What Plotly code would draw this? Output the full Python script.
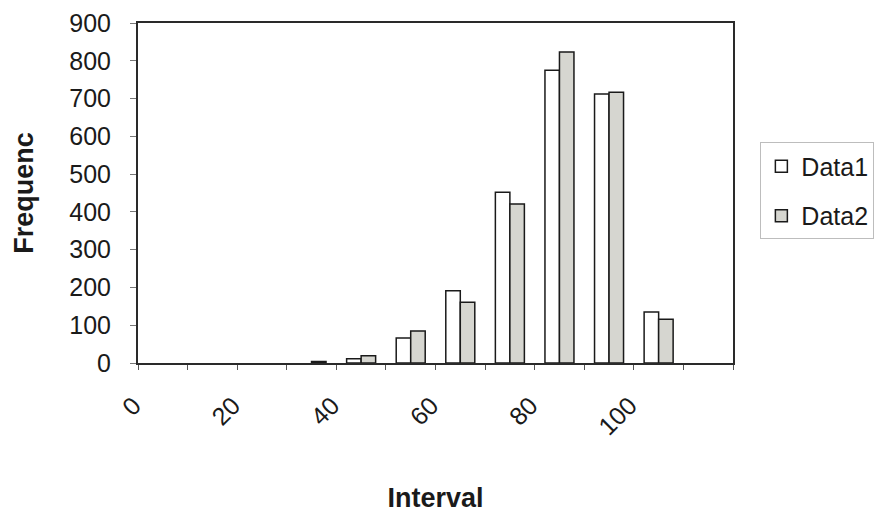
import plotly.graph_objects as go

# Histogram bins (interval start) and the frequencies of the two data sets
categories = ["0", "10", "20", "30", "40", "50", "60", "70", "80", "90", "100", "110"]
tick_labels = ["0", "", "20", "", "40", "", "60", "", "80", "", "100", ""]
data1 = [0, 0, 0, 0, 11, 66, 191, 452, 775, 712, 135, 0]
data2 = [0, 0, 0, 4, 19, 85, 161, 421, 823, 717, 116, 0]

FONT = "Liberation Sans, Arial, sans-serif"
INK = "#1a1a1a"


def heights(values):
    # empty bins are left blank instead of drawing a flat outline on the axis
    return [v if v > 0 else None for v in values]


fig = go.Figure()
fig.add_trace(go.Bar(
    x=categories, y=heights(data1), name="Data1", legendgroup="d1",
    marker=dict(color="white", line=dict(color=INK, width=1.5)),
))
fig.add_trace(go.Bar(
    x=categories, y=heights(data2), name="Data2", legendgroup="d2",
    marker=dict(color="#d6d6d0", line=dict(color=INK, width=1.5)),
))

fig.update_layout(
    width=886, height=513,
    margin=dict(l=138, r=153, t=23, b=150),
    paper_bgcolor="white", plot_bgcolor="white",
    barmode="group", bargap=0.415, bargroupgap=0,
    font=dict(family=FONT, size=25, color=INK),
    showlegend=True,
    legend=dict(
        x=1.046, xanchor="left", y=0.506, yanchor="middle",
        bordercolor="#bdbdbd", borderwidth=1, bgcolor="white",
        font=dict(family=FONT, size=25, color=INK),
        tracegroupgap=14,
    ),
    xaxis=dict(
        type="category", automargin=False,
        tickvals=categories, ticktext=tick_labels,
        tickson="boundaries", ticks="outside", ticklen=5, tickcolor="#555",
        tickangle=-45, ticklabelshift=-29, ticklabelstandoff=16,
        showline=True, mirror=True, linecolor="#2a2a2a", linewidth=2,
        showgrid=False, zeroline=False,
        title=dict(text="<b>Interval</b>", font=dict(family=FONT, size=27, color=INK), standoff=52),
    ),
    yaxis=dict(
        range=[0, 900], dtick=100, automargin=False,
        ticks="outside", ticklen=6, tickcolor="#777", ticklabelstandoff=14,
        showline=True, mirror=True, linecolor="#2a2a2a", linewidth=2,
        showgrid=False, zeroline=False,
        title=dict(text="<b>Frequenc</b>", font=dict(family=FONT, size=27, color=INK), standoff=28),
    ),
)

fig.write_html("out.html")
